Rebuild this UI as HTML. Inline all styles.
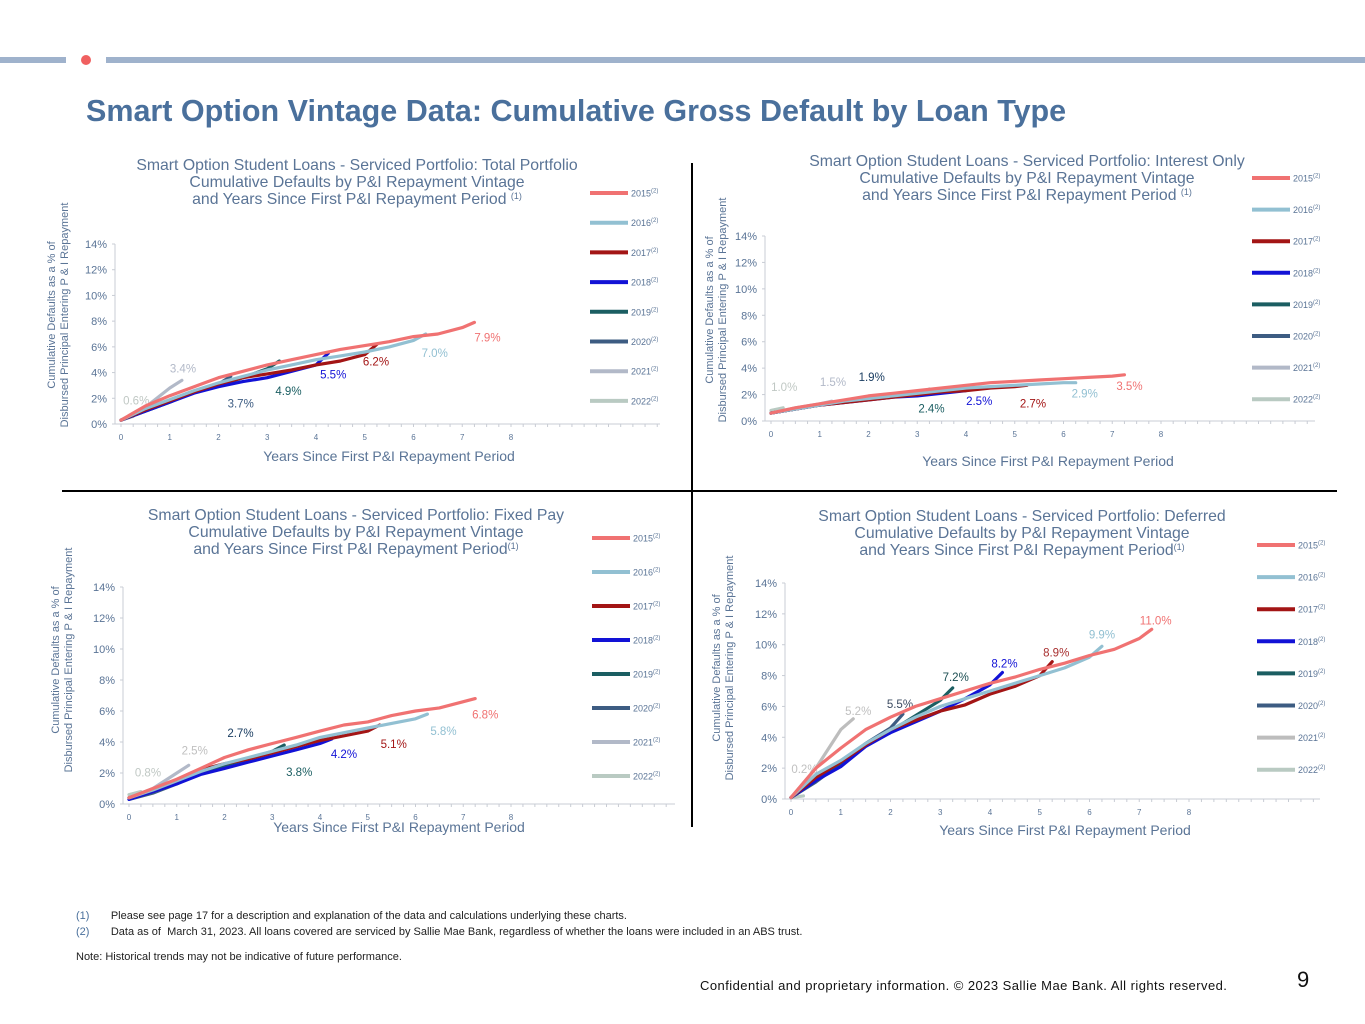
<!DOCTYPE html>
<html><head><meta charset="utf-8"><style>
body{margin:0;background:#fff;width:1365px;height:1024px;overflow:hidden;font-family:"Liberation Sans",sans-serif;position:relative}
.t{position:absolute;white-space:nowrap}
</style></head><body>
<div style="position:absolute;left:0;top:57px;width:66px;height:6px;background:#9fb2cc"></div>
<div style="position:absolute;left:81px;top:55px;width:10px;height:10px;border-radius:50%;background:#f06060"></div>
<div style="position:absolute;left:106px;top:57px;width:1259px;height:6px;background:#9fb2cc"></div>
<div class="t" style="left:86px;top:94px;font-size:30.5px;font-weight:bold;color:#4a709c">Smart Option Vintage Data: Cumulative Gross Default by Loan Type</div>
<svg id="s" width="1365" height="1024" style="position:absolute;left:0;top:0" xmlns="http://www.w3.org/2000/svg" font-family="Liberation Sans, sans-serif">
<line x1="692" y1="163" x2="692" y2="827" stroke="#000" stroke-width="2"/>
<line x1="62" y1="491" x2="1337" y2="491" stroke="#000" stroke-width="2"/>
</svg>
<div class="t" style="left:76px;top:910px;font-size:11px;color:#222"><span style="color:#4a709c">(1)</span>&nbsp;&nbsp;&nbsp;&nbsp;&nbsp;&nbsp;&nbsp;Please see page 17 for a description and explanation of the data and calculations underlying these charts.</div>
<div class="t" style="left:76px;top:926px;font-size:11px;color:#222"><span style="color:#4a709c">(2)</span>&nbsp;&nbsp;&nbsp;&nbsp;&nbsp;&nbsp;&nbsp;Data as of &nbsp;March 31, 2023. All loans covered are serviced by Sallie Mae Bank, regardless of whether the loans were included in an ABS trust.</div>
<div class="t" style="left:76px;top:951px;font-size:11px;color:#222">Note: Historical trends may not be indicative of future performance.</div>
<div class="t" style="left:700px;top:978px;font-size:13px;letter-spacing:0.45px;color:#111">Confidential and proprietary information. © 2023 Sallie Mae Bank. All rights reserved.</div>
<div class="t" style="left:1297px;top:967px;font-size:22px;color:#111">9</div>
<script>
const vintages=['2015','2016','2017','2018','2019','2020','2021','2022'];
const colors=['#f07272','#92c0d2','#a31515','#1212d6','#1b5e62','#3d5c82','#b2b9c8','#b9cac2'];
const yTicks=[0,2,4,6,8,10,12,14];
const xTicks=[0,1,2,3,4,5,6,7,8];
const ends=[7.25,6.25,5.25,4.25,3.25,2.25,1.25,0.25];
// Total portfolio
const totalVals=[
[0.3,1.4,2.2,2.9,3.6,4.1,4.6,5.0,5.4,5.8,6.1,6.4,6.8,7.0,7.5,7.9],
[0.3,1.2,1.9,2.6,3.2,3.7,4.2,4.6,5.0,5.3,5.6,6.0,6.5,7.0],
[0.3,1.1,1.8,2.5,3.1,3.6,3.9,4.2,4.6,4.9,5.4,6.2],
[0.3,1.0,1.7,2.4,2.9,3.3,3.6,4.1,4.6,5.5],
[0.3,1.0,1.7,2.5,3.0,3.6,4.3,4.9],
[0.3,1.0,1.7,2.5,3.1,3.7],
[0.3,1.3,2.8,3.4],
[0.3,0.6]];
const totalLabels=['7.9%','7.0%','6.2%','5.5%','4.9%','3.7%','3.4%','0.6%'];
// Interest only
const ioVals=[
[0.6,1.0,1.3,1.6,1.9,2.1,2.3,2.5,2.7,2.9,3.0,3.1,3.2,3.3,3.4,3.5],
[0.6,0.9,1.2,1.5,1.7,1.9,2.1,2.3,2.5,2.6,2.7,2.8,2.9,2.9],
[0.6,0.9,1.2,1.4,1.6,1.8,2.0,2.2,2.3,2.5,2.6,2.7],
[0.6,0.9,1.2,1.4,1.6,1.8,1.9,2.1,2.3,2.5],
[0.6,0.9,1.2,1.5,1.8,2.0,2.2,2.4],
[0.6,0.9,1.2,1.5,1.7,1.9],
[0.6,1.0,1.3,1.5],
[0.8,1.0]];
const ioLabels=['3.5%','2.9%','2.7%','2.5%','2.4%','1.9%','1.5%','1.0%'];
// Fixed pay
const fpVals=[
[0.4,1.0,1.6,2.3,3.0,3.5,3.9,4.3,4.7,5.1,5.3,5.7,6.0,6.2,6.6,6.8],
[0.4,0.9,1.5,2.1,2.6,3.0,3.4,3.8,4.3,4.6,4.9,5.2,5.5,5.8],
[0.4,0.9,1.5,2.2,2.6,2.9,3.3,3.7,4.1,4.4,4.7,5.1],
[0.3,0.8,1.3,1.9,2.3,2.7,3.1,3.5,3.9,4.2],
[0.4,0.8,1.4,2.1,2.5,2.9,3.4,3.8],
[0.3,0.7,1.3,2.0,2.5,2.7],
[0.4,1.0,2.0,2.5],
[0.6,0.8]];
const fpLabels=['6.8%','5.8%','5.1%','4.2%','3.8%','2.7%','2.5%','0.8%'];
// Deferred
const dfVals=[
[0.1,2.0,3.3,4.5,5.3,6.0,6.5,7.0,7.5,7.9,8.4,8.8,9.3,9.7,10.4,11.0],
[0.1,1.6,2.5,3.6,4.5,5.3,6.0,6.5,7.0,7.5,8.0,8.5,9.2,9.9],
[0.1,1.4,2.4,3.5,4.5,5.1,5.7,6.1,6.8,7.3,8.0,8.9],
[0.1,1.2,2.1,3.4,4.3,5.0,5.7,6.5,7.4,8.2],
[0.1,1.2,2.3,3.5,4.4,5.4,6.4,7.2],
[0.1,1.1,2.3,3.6,4.6,5.5],
[0.1,2.0,4.5,5.2],
[0.1,0.2]];
const dfLabels=['11.0%','9.9%','8.9%','8.2%','7.2%','5.5%','5.2%','0.2%'];

const NS='http://www.w3.org/2000/svg';
const svg=document.getElementById('s');
function mk(tag,attrs,parent){const e=document.createElementNS(NS,tag);for(const k in attrs)e.setAttribute(k,attrs[k]);(parent||svg).appendChild(e);return e;}
function txt(x,y,s,size,fill,anchor,parent){const e=mk('text',{x:x,y:y,'font-size':size,fill:fill,'text-anchor':anchor||'start'},parent);e.textContent=s;return e;}

function chart(cfg){
  const g=mk('g',{});
  
  
  const X=v=>cfg.x0+(cfg.x8-cfg.x0)*v/8;
  const Y=v=>cfg.y0-(cfg.y0-cfg.y14)*v/14;
  cfg.title.forEach((t,i)=>{const e=txt(cfg.tx,cfg.ty+i*17,t,15.8,'#5a7496','middle',g);
    
    if(i==2){const sp=mk('tspan',{'font-size':9,dy:-5},e);sp.textContent=cfg.sup;}});
  const ax=mk('line',{x1:X(0)-6,y1:cfg.y0,x2:cfg.axEnd,y2:cfg.y0,stroke:'#c8ccd4','stroke-width':1},g);
  
  const ay=mk('line',{x1:X(0)-6,y1:cfg.y0,x2:X(0)-6,y2:Y(14),stroke:'#c8ccd4','stroke-width':1},g);
  
  for(let v=0;X(v/4)<=cfg.axEnd;v++){mk('line',{x1:X(v/4),y1:cfg.y0,x2:X(v/4),y2:cfg.y0+3,stroke:'#c8ccd4'},g);}
  yTicks.forEach(v=>{mk('line',{x1:X(0)-9,y1:Y(v),x2:X(0)-6,y2:Y(v),stroke:'#c8ccd4'},g);
    const e=txt(X(0)-14,Y(v)+4,v+'%',11,'#5a7496','end',g);
    });
  xTicks.forEach(v=>{const e=txt(X(v),cfg.y0+16,String(v),8,'#5a7496','middle',g);
    });
  const xt=txt(cfg.xtx,cfg.xty,'Years Since First P&I Repayment Period',14,'#5a7496','middle',g);
  
  const yt=mk('text',{transform:`translate(${cfg.ytx},${cfg.yty}) rotate(-90)`,'font-size':11,fill:'#5a7496','text-anchor':'middle'},g);
  
  const t1=mk('tspan',{x:0,y:0},yt);t1.textContent='Cumulative Defaults as a % of';
  const t2=mk('tspan',{x:0,y:13},yt);t2.textContent='Disbursed Principal  Entering P & I Repayment';
  for(let s=vintages.length-1;s>=0;s--){
    const vals=cfg.vals[s];
    const pts=vals.map((v,i)=>{const xv=(i==vals.length-1)?ends[s]:i*0.5;return X(xv).toFixed(1)+','+Y(v).toFixed(1);});
    const p=mk('polyline',{points:pts.join(' '),fill:'none',stroke:cfg.colors[s],'stroke-width':3.2,'stroke-linejoin':'round','stroke-linecap':'round'},g);
    
    
    const lv=vals[vals.length-1];
    const o=cfg.off[s];
    const l=txt(X(ends[s])+o[0],Y(lv)+o[1],cfg.labels[s],11.5,cfg.lcol[s],'middle',g);
    
    
  }
  vintages.forEach((v,i)=>{const ly=cfg.ly0+i*cfg.lstep;
    const lg=mk('g',{},g);
    
    
    mk('line',{x1:cfg.lx,y1:ly,x2:cfg.lx+38,y2:ly,stroke:cfg.colors[i],'stroke-width':4},lg);
    const e=txt(cfg.lx+41,ly+3.5,v,9,'#5a7496','start',lg);
    const sp=mk('tspan',{'font-size':6,dy:-4},e);sp.textContent='(2)';});
}
const colsBR=colors.slice();colsBR[6]='#bdbdbd';
chart({name:'total-portfolio-chart',x0:121,x8:511,y0:424,y14:244,axEnd:660,tx:357,ty:170,
 title:['Smart Option Student Loans - Serviced Portfolio: Total Portfolio','Cumulative Defaults by P&I Repayment Vintage','and Years Since First P&I Repayment Period '],sup:'(1)',
 xtx:389,xty:461,ytx:55,yty:315,vals:totalVals,labels:totalLabels,colors:colors,lcol:['#f07272','#92c0d2','#a31515','#1212d6','#1b5e62','#3d5c82','#b2b9c8','#c0c8c4'],
 off:[[13,19],[9,23],[-1,21],[5,25],[9,34],[10,31],[1,-8],[3,-12]],lx:590,ly0:193,lstep:29.7});
chart({name:'interest-only-chart',x0:771,x8:1161,y0:421,y14:236,axEnd:1315,tx:1027,ty:166,
 title:['Smart Option Student Loans - Serviced Portfolio: Interest Only','Cumulative Defaults by P&I Repayment Vintage','and Years Since First P&I Repayment Period '],sup:'(1)',
 xtx:1048,xty:466,ytx:713,yty:310,vals:ioVals,labels:ioLabels,colors:colors,lcol:['#f07272','#92c0d2','#a31515','#1212d6','#1b5e62','#1b3e62','#b2b9c8','#c0c8c4'],
 off:[[5,15],[9,15],[6,22],[1,17],[2,23],[-9,-15],[1,-15],[1,-17]],lx:1252,ly0:178,lstep:31.6});
chart({name:'fixed-pay-chart',x0:129,x8:511,y0:804,y14:587,axEnd:675,tx:356,ty:520,
 title:['Smart Option Student Loans - Serviced Portfolio: Fixed Pay','Cumulative Defaults by P&I Repayment Vintage','and Years Since First P&I Repayment Period'],sup:'(1)',
 xtx:399,xty:832,ytx:59,yty:660,vals:fpVals,labels:fpLabels,colors:colors,lcol:['#f07272','#92c0d2','#a31515','#1212d6','#1b5e62','#1b3e62','#c0c0c0','#c0c8c4'],
 off:[[10,20],[16,21],[14,23],[12,19],[15,31],[4,-25],[6,-11],[7,-15]],lx:592,ly0:538,lstep:34});
chart({name:'deferred-chart',x0:791,x8:1189,y0:799,y14:583,axEnd:1320,tx:1022,ty:521,
 title:['Smart Option Student Loans - Serviced Portfolio: Deferred','Cumulative Defaults by P&I Repayment Vintage','and Years Since First P&I Repayment Period'],sup:'(1)',
 xtx:1065,xty:835,ytx:720,yty:668,vals:dfVals,labels:dfLabels,colors:colsBR,lcol:['#f07272','#92c0d2','#a83030','#1212d6','#1b4e52','#3d4c62','#c0c0c0','#c0c0c0'],
 off:[[4,-5],[0,-8],[4,-5],[2,-5],[3,-7],[-3,-6],[5,-4],[1,-23]],lx:1257,ly0:545,lstep:32.1});
</script>
</body></html>
